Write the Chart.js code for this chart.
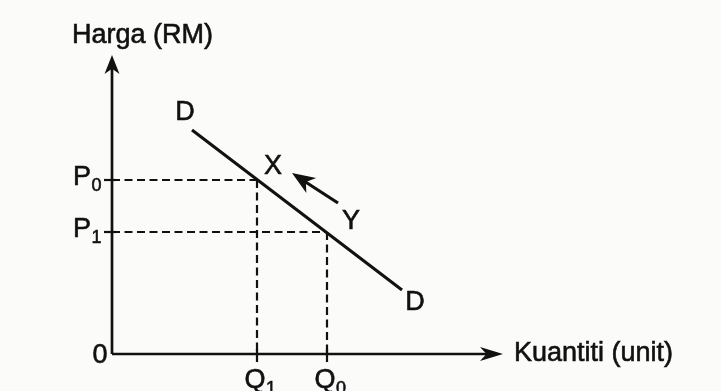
<!DOCTYPE html>
<html>
<head>
<meta charset="utf-8">
<script src="https://cdn.jsdelivr.net/npm/chart.js@4"></script>
<style>
  html, body { margin: 0; padding: 0; background: #fbfbfa; }
  #wrap { width: 721px; height: 391px; }
</style>
</head>
<body>
<div id="wrap"><canvas id="c" width="721" height="391"></canvas></div>
<script>
// values (1 unit ~ 10px)
const quantities = [14.5, 21.5];          // Q1, Q0
const quantityNames = ["Q", "Q"];
const quantitySubs = ["1", "0"];
const prices = [17.4, 12.2];              // P0, P1
const priceNames = ["P", "P"];
const priceSubs = ["0", "1"];
const demandX = [8, 29];
const demandY = [22.4, 6.4];
const axisEnd = { x: 39.1, y: 29.9 };
const moveFrom = { x: 22.6, y: 15.1 };    // towards Y side
const moveTo = { x: 18.0, y: 18.1 };      // towards X
const axisTitles = ["Harga (RM)", "Kuantiti (unit)"];

(function () {
  "use strict";
  const ink = "#111";
  const FONT = "Liberation Sans, Arial, Helvetica, sans-serif";
  const seg = (a, b, w, dash) => ({
    data: [a, b],
    showLine: true,
    borderColor: ink,
    borderWidth: w,
    borderDash: dash || [],
    pointRadius: 0,
    clip: false,
  });

  const sets = [];
  // dashed guides
  prices.forEach((p, i) => {
    sets.push(seg({ x: 0, y: p }, { x: quantities[i], y: p }, 2.2, [8, 4.5]));
    sets.push(seg({ x: quantities[i], y: p }, { x: quantities[i], y: 0 }, 2.2, [8, 4.5]));
  });
  // small ticks on the axes
  prices.forEach((p) => sets.push(seg({ x: -0.8, y: p }, { x: 0.4, y: p }, 2.2)));
  quantities.forEach((q) => sets.push(seg({ x: q, y: 0.5 }, { x: q, y: -0.8 }, 2.2)));
  // axes
  sets.push(seg({ x: 0, y: 0 }, { x: axisEnd.x - 1.5, y: 0 }, 2.7));
  sets.push(seg({ x: 0, y: 0 }, { x: 0, y: axisEnd.y - 1.2 }, 2.7));
  // demand curve
  sets.push(seg({ x: demandX[0], y: demandY[0] }, { x: demandX[1], y: demandY[1] }, 3));
  // movement along the curve
  sets.push(seg(moveFrom, { x: moveTo.x + 1.2, y: moveTo.y - 0.8 }, 3.2));

  function head(ctx, tx, ty, ang, len, half) {
    ctx.save();
    ctx.translate(tx, ty);
    ctx.rotate(ang);
    ctx.beginPath();
    ctx.moveTo(0, 0);
    ctx.lineTo(-len, -half);
    ctx.lineTo(-len * 0.72, 0);
    ctx.lineTo(-len, half);
    ctx.closePath();
    ctx.fillStyle = ink;
    ctx.fill();
    ctx.restore();
  }
  function txt(ctx, s, x, y) {
    ctx.fillText(s, x, y);
    ctx.strokeText(s, x, y);
  }
  function sub(ctx, x, y, main, s) {
    ctx.font = "27px " + FONT;
    ctx.textAlign = "center";
    ctx.textBaseline = "middle";
    txt(ctx, main, x, y);
    const w = ctx.measureText(main).width;
    ctx.font = "18px " + FONT;
    ctx.textAlign = "left";
    txt(ctx, s, x + w / 2 + 0.5, y + 8);
  }

  const marks = {
    id: "marks",
    afterDatasetsDraw(chart) {
      const ctx = chart.ctx, sx = chart.scales.x, sy = chart.scales.y;
      const px = (v) => sx.getPixelForValue(v), py = (v) => sy.getPixelForValue(v);
      ctx.save();
      ctx.fillStyle = ink;
      ctx.strokeStyle = ink;
      ctx.lineWidth = 0.6;
      head(ctx, px(axisEnd.x), py(0), 0, 23, 7);
      head(ctx, px(0), py(axisEnd.y), -Math.PI / 2, 19, 7.5);
      const ang = Math.atan2(py(moveTo.y) - py(moveFrom.y), px(moveTo.x) - px(moveFrom.x));
      head(ctx, px(moveTo.x), py(moveTo.y), ang, 23, 9);

      ctx.font = "27px " + FONT;
      ctx.textAlign = "center";
      ctx.textBaseline = "middle";
      txt(ctx, axisTitles[0], px(3.05), py(31.8));
      ctx.textAlign = "left";
      txt(ctx, axisTitles[1], px(40.2), py(0));
      ctx.textAlign = "center";
      txt(ctx, "0", px(-1.2), py(-0.2));
      txt(ctx, "D", px(demandX[0] - 0.7), py(demandY[0] + 1.7));
      txt(ctx, "D", px(demandX[1] + 1.3), py(demandY[1] - 1.3));
      txt(ctx, "X", px(quantities[0] + 1.6), py(prices[0] + 1.3));
      txt(ctx, "Y", px(quantities[1] + 2.4), py(prices[1] + 1.0));

      prices.forEach((p, i) => sub(ctx, px(-3.0), py(p + 0.2), priceNames[i], priceSubs[i]));
      quantities.forEach((q, i) => sub(ctx, px(q - 0.2), py(-2.7), quantityNames[i], quantitySubs[i]));
      ctx.restore();
    },
  };

  new Chart(document.getElementById("c"), {
    type: "scatter",
    data: { datasets: sets },
    options: {
      responsive: false,
      animation: false,
      events: [],
      layout: { padding: 0 },
      plugins: { legend: { display: false }, tooltip: { enabled: false } },
      scales: {
        x: { type: "linear", display: false, min: -11.2, max: 60.9 },
        y: { type: "linear", display: false, min: -3.7, max: 35.4 },
      },
    },
    plugins: [marks],
  });
})();
</script>
</body>
</html>
